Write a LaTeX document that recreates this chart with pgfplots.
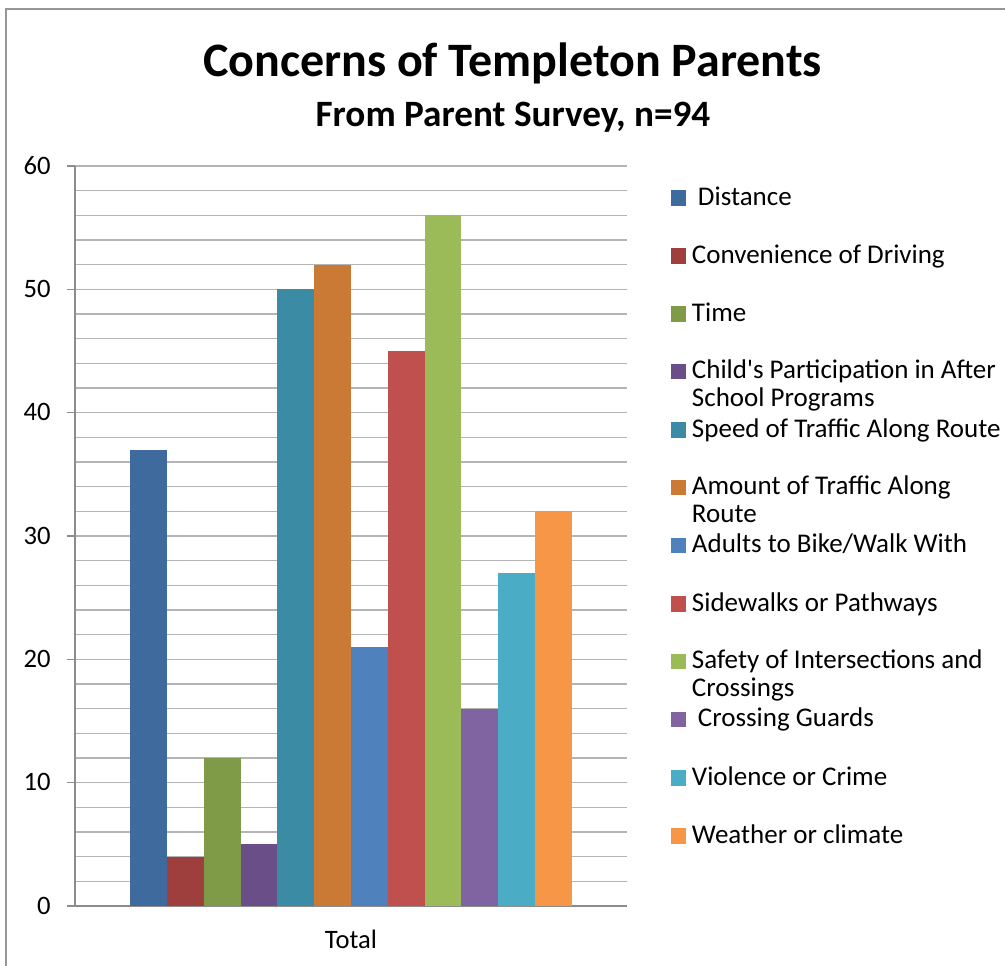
\documentclass[border=0pt]{standalone}
\usepackage{pgfplots}
\pgfplotsset{compat=1.18}
\usepackage{fontspec}
\setmainfont{Carlito}

\definecolor{cDist}{HTML}{3E6A9E}
\definecolor{cConv}{HTML}{9E3F3E}
\definecolor{cTime}{HTML}{7F9B48}
\definecolor{cChild}{HTML}{694E87}
\definecolor{cSpeed}{HTML}{3A8BA3}
\definecolor{cAmount}{HTML}{CB7A36}
\definecolor{cAdults}{HTML}{4F81BD}
\definecolor{cSide}{HTML}{C0504D}
\definecolor{cSafety}{HTML}{9BBB59}
\definecolor{cGuards}{HTML}{8064A2}
\definecolor{cViol}{HTML}{4BACC6}
\definecolor{cWeather}{HTML}{F79646}
\definecolor{gridc}{HTML}{B4B4B4}
\definecolor{axisc}{HTML}{8C8C8C}

% legend text: fixed row height, second line hangs below
\newcommand\strutL{\rule[-3bp]{0pt}{12bp}}
\newcommand\two[2]{\strutL\smash{\vtop{\hbox{#1}\hbox{#2}}}}

\begin{document}
\begin{tikzpicture}
\useasboundingbox (0,0) rectangle (502.5bp,-483bp);
\draw[color={rgb,255:red,150;green,150;blue,150}, line width=1bp]
  (3bp,-483bp) -- (3bp,-4.25bp) -- (502.5bp,-4.25bp);

\node[anchor=base, font=\bfseries\fontsize{24bp}{28bp}\selectfont]
  at (256.25bp,-38bp) {Concerns of Templeton Parents};
\node[anchor=base, font=\bfseries\fontsize{18.6bp}{22bp}\selectfont]
  at (256.5bp,-63bp) {From Parent Survey, n=94};

\begin{axis}[
    at={(37.5bp,-453bp)}, anchor=south west,
    scale only axis,
    width=276bp, height=370bp,
    ybar=0pt, bar width=18.4bp,
    xmin=-0.5, xmax=0.5,
    ymin=0, ymax=60,
    xtick={0}, xticklabels={Total},
    ytick={0,10,...,60},
    minor y tick num=4,
    ymajorgrids, yminorgrids,
    major grid style={gridc, line width=0.6bp},
    minor grid style={gridc, line width=0.6bp},
    axis x line*=bottom, axis y line*=left,
    axis line style={axisc, line width=0.8bp},
    x axis line style={-}, y axis line style={-},
    tick align=outside,
    major tick length=4bp, minor tick length=0pt,
    xtick style={draw=none},
    ytick style={axisc, line width=0.8bp},
    tick label style={font=\fontsize{13.3bp}{15bp}\selectfont},
    /pgf/number format/assume math mode=true,
    yticklabel style={anchor=base east, inner sep=0pt, xshift=-8bp, yshift=-4bp},
    xticklabel style={anchor=base, inner sep=0pt, yshift=-17bp},
    legend style={
      at={(1.0797,0.9775)}, anchor=north west,
      draw=none, fill=none, inner sep=0pt, outer sep=0pt,
      row sep=14.27bp, column sep=1bp,
      cells={anchor=base west, inner sep=0pt},
      font=\fontsize{13.5bp}{14bp}\selectfont,
    },
    legend image code/.code={\fill[#1] (0bp,-0.3bp) rectangle (7.5bp,7.5bp);},
  ]
\addplot[fill=cDist, draw=none] coordinates {(0,37)};
\addplot[fill=cConv, draw=none] coordinates {(0,4)};
\addplot[fill=cTime, draw=none] coordinates {(0,12)};
\addplot[fill=cChild, draw=none] coordinates {(0,5)};
\addplot[fill=cSpeed, draw=none] coordinates {(0,50)};
\addplot[fill=cAmount, draw=none] coordinates {(0,52)};
\addplot[fill=cAdults, draw=none] coordinates {(0,21)};
\addplot[fill=cSide, draw=none] coordinates {(0,45)};
\addplot[fill=cSafety, draw=none] coordinates {(0,56)};
\addplot[fill=cGuards, draw=none] coordinates {(0,16)};
\addplot[fill=cViol, draw=none] coordinates {(0,27)};
\addplot[fill=cWeather, draw=none] coordinates {(0,32)};
\addlegendentry{\strutL\hspace{3bp}Distance}
\addlegendentry{\strutL Convenience of Driving}
\addlegendentry{\strutL Time}
\addlegendentry{\two{Child\textquotesingle s Participation in After}{School Programs}}
\addlegendentry{\strutL Speed of Traffic Along Route}
\addlegendentry{\two{Amount of Traffic Along}{Route}}
\addlegendentry{\strutL Adults to Bike/Walk With}
\addlegendentry{\strutL Sidewalks or Pathways}
\addlegendentry{\two{Safety of Intersections and}{Crossings}}
\addlegendentry{\strutL\hspace{3bp}Crossing Guards}
\addlegendentry{\strutL Violence or Crime}
\addlegendentry{\strutL Weather or climate}
\end{axis}
\end{tikzpicture}
\end{document}
